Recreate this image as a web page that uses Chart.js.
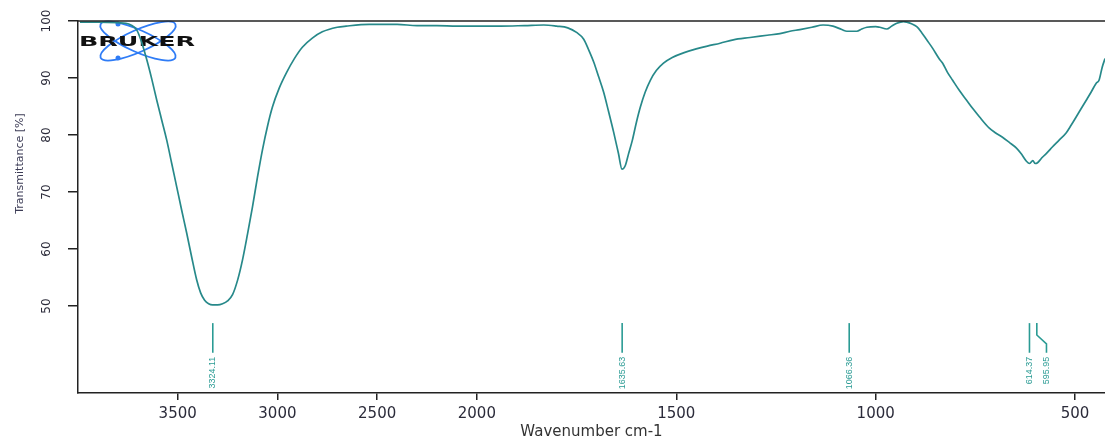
<!DOCTYPE html>
<html>
<head>
<meta charset="utf-8">
<script src="https://cdn.jsdelivr.net/npm/chart.js@4/dist/chart.umd.min.js"></script>
<style>
  html, body { margin: 0; padding: 0; background: #fff; }
  canvas { display: block; }
</style>
</head>
<body>
<canvas id="ir" width="1105" height="439"></canvas>
<script>
// spectrum (cm-1, %T), high to low wavenumber
const wavenumbers = [
  3990, 3900, 3800, 3760, 3735, 3705, 3680, 3655, 3630, 3605, 3580, 3555, 3530, 3505, 3480,
  3455, 3430, 3405, 3385, 3365, 3345, 3325, 3300, 3275, 3250, 3225, 3200, 3175, 3150, 3125,
  3100, 3075, 3050, 3025, 2990, 2955, 2915, 2875, 2825, 2775, 2700, 2655, 2540, 2400, 2300,
  2200, 2100, 2000, 1940, 1880, 1832, 1800, 1772, 1750, 1732, 1720, 1707, 1695, 1682, 1670,
  1657, 1645, 1636, 1628, 1620, 1610, 1600, 1590, 1578, 1565, 1550, 1532, 1510, 1482, 1450,
  1422, 1390, 1357, 1315, 1272, 1240, 1215, 1190, 1160, 1132, 1107, 1085, 1072, 1047, 1035,
  1022, 1000, 990, 972, 960, 947, 930, 922, 910, 897, 885, 872, 857, 840, 832,
  820, 807, 790, 772, 755, 740, 715, 700, 682, 665, 647, 635, 622, 614, 606,
  600, 595, 588, 582, 570, 557, 540, 522, 510, 497, 485, 472, 460, 447, 440,
  432, 425
];
const transmittance = [
  99.8, 99.8, 99.7, 99.6, 99.3, 98.4, 96.2, 93.2, 89.8, 86.1, 82.6, 79.1, 75.0, 70.9, 66.8,
  62.8, 58.6, 54.6, 52.3, 51.0, 50.4, 50.2, 50.2, 50.4, 50.9, 52.0, 54.5, 58.1, 62.6, 67.4,
  72.6, 77.4, 81.5, 84.9, 88.3, 90.9, 93.4, 95.4, 97.0, 98.1, 98.9, 99.1, 99.4, 99.4, 99.2,
  99.2, 99.1, 99.1, 99.1, 99.2, 99.3, 99.1, 98.8, 98.0, 96.8, 95.0, 92.8, 90.3, 87.5, 84.2,
  80.5, 76.8, 74.0, 74.6, 76.6, 79.1, 82.2, 84.9, 87.5, 89.6, 91.3, 92.6, 93.6, 94.4, 95.1,
  95.6, 96.1, 96.7, 97.1, 97.5, 97.8, 98.2, 98.5, 98.9, 99.3, 99.1, 98.5, 98.2, 98.2, 98.6,
  98.9, 99.0, 98.9, 98.6, 99.1, 99.6, 99.9, 99.8, 99.5, 99.0, 98.0, 96.7, 95.2, 93.3, 92.6,
  91.0, 89.6, 87.8, 86.1, 84.5, 83.2, 81.2, 80.4, 79.6, 78.7, 77.7, 76.7, 75.4, 75.0, 75.5,
  75.0, 75.1, 75.6, 76.1, 76.9, 77.9, 79.1, 80.4, 81.7, 83.2, 84.6, 86.1, 87.5, 89.1, 89.6,
  91.9, 93.4
];
const peakPositions = [3324.11, 1635.63, 1066.36, 614.37, 595.95];
const peakLabels = ['3324.11', '1635.63', '1066.36', '614.37', '595.95'];
const xTickValues = [3500, 3000, 2500, 2000, 1500, 1000, 500];
const yTickValues = [50, 60, 70, 80, 90, 100];

// OPUS squeezes everything above 2000 cm-1 to half scale
const BREAK = 2000;
const toAxis = wn => wn <= BREAK ? wn : BREAK + (wn - BREAK) / 2;
const fromAxis = u => u <= BREAK ? u : BREAK + (u - BREAK) * 2;

const TEAL = '#27898a';
const MARK = '#2a9b94';
const INK  = '#2b2b3a';

const frame = {
  id: 'frame',
  afterDraw(chart) {
    const { ctx, chartArea: a, scales: { y } } = chart;
    ctx.save();
    ctx.strokeStyle = '#222';
    ctx.lineWidth = 1.5;
    ctx.beginPath();
    ctx.moveTo(a.left, a.top);
    ctx.lineTo(a.right, a.top);
    ctx.stroke();
    // y title sits centred on the labelled part of the axis
    const mid = (y.getPixelForValue(yTickValues[0]) + y.getPixelForValue(yTickValues[yTickValues.length - 1])) / 2;
    ctx.translate(20, mid);
    ctx.rotate(-Math.PI / 2);
    ctx.fillStyle = '#3b3b55';
    ctx.font = '11px "DejaVu Sans", sans-serif';
    ctx.textAlign = 'center';
    ctx.textBaseline = 'middle';
    ctx.fillText('Transmittance [%]', 0, 0);
    ctx.restore();
  }
};

const logo = {
  id: 'logo',
  beforeDatasetsDraw(chart) {
    const { ctx } = chart;
    ctx.save();
    ctx.strokeStyle = '#2f7cf6';
    ctx.fillStyle = '#2f7cf6';
    ctx.lineWidth = 1.8;
    [0.42, -0.42].forEach(r => {
      ctx.beginPath();
      ctx.ellipse(138, 41, 41, 11, r, 0, Math.PI * 2);
      ctx.stroke();
    });
    [[118, 24], [118, 58]].forEach(([dx, dy]) => {
      ctx.beginPath();
      ctx.arc(dx, dy, 2.5, 0, Math.PI * 2);
      ctx.fill();
    });
    ctx.font = 'bold 14px "DejaVu Sans", sans-serif';
    const w = ctx.measureText('BRUKER').width;
    ctx.translate(79, 42);
    ctx.scale(116 / w, 1);
    ctx.fillStyle = '#111';
    ctx.textBaseline = 'middle';
    ctx.fillText('BRUKER', 0, 0);
    ctx.restore();
  }
};

const peakMarks = {
  id: 'peakMarks',
  afterDatasetsDraw(chart) {
    const { ctx, scales: { x, y } } = chart;
    const top = y.getPixelForValue(47);
    const bottom = y.getPixelForValue(41.8);
    let prev = -Infinity;
    ctx.save();
    ctx.strokeStyle = MARK;
    ctx.fillStyle = MARK;
    ctx.lineWidth = 1.6;
    ctx.font = '9px "Liberation Sans", Arial, sans-serif';
    peakPositions.forEach((wn, i) => {
      const px = x.getPixelForValue(toAxis(wn));
      const lx = Math.max(px, prev + 17);
      prev = lx;
      ctx.beginPath();
      ctx.moveTo(px, top);
      if (lx !== px) {
        ctx.lineTo(px, top + (bottom - top) * 0.4);
        ctx.lineTo(lx, top + (bottom - top) * 0.7);
      }
      ctx.lineTo(lx, bottom);
      ctx.stroke();
      ctx.save();
      ctx.translate(lx, bottom + 4);
      ctx.rotate(-Math.PI / 2);
      ctx.textAlign = 'right';
      ctx.textBaseline = 'middle';
      ctx.fillText(peakLabels[i], 0, 0);
      ctx.restore();
    });
    ctx.restore();
  }
};

new Chart(document.getElementById('ir'), {
  type: 'line',
  data: {
    datasets: [{
      data: wavenumbers.map((w, i) => ({ x: toAxis(w), y: transmittance[i] })),
      borderColor: TEAL,
      borderWidth: 1.7,
      pointRadius: 0,
      cubicInterpolationMode: 'monotone',
      fill: false
    }]
  },
  options: {
    responsive: false,
    animation: false,
    layout: { padding: { top: 21, right: 0, left: 0, bottom: 0 } },
    plugins: { legend: { display: false }, tooltip: { enabled: false } },
    scales: {
      x: {
        type: 'linear',
        reverse: true,
        min: toAxis(425),
        max: toAxis(4000),
        afterBuildTicks: s => { s.ticks = xTickValues.map(v => ({ value: toAxis(v) })); },
        afterFit: s => { s.height = 46; },
        ticks: {
          callback: v => String(Math.round(fromAxis(v))),
          color: INK, font: { family: 'DejaVu Sans', size: 15 },
          padding: 5, maxRotation: 0, autoSkip: false
        },
        grid: { drawOnChartArea: false, tickLength: 7, color: '#222', lineWidth: 1.5 },
        border: { color: '#222', width: 1.5 },
        title: {
          display: true, text: 'Wavenumber cm-1', color: '#333',
          font: { family: 'DejaVu Sans', size: 15 }, padding: { top: 0, bottom: -2 }
        }
      },
      y: {
        min: 34.74,
        max: 100,
        afterBuildTicks: s => { s.ticks = yTickValues.map(v => ({ value: v })); },
        afterFit: s => { s.width = 78; },
        ticks: {
          color: INK, font: { family: 'DejaVu Sans', size: 12 },
          minRotation: 90, maxRotation: 90, crossAlign: 'center', padding: 10
        },
        grid: { drawOnChartArea: false, tickLength: 10, color: '#222', lineWidth: 1.5 },
        border: { color: '#222', width: 1.5 }
      }
    }
  },
  plugins: [frame, logo, peakMarks]
});
</script>
</body>
</html>
